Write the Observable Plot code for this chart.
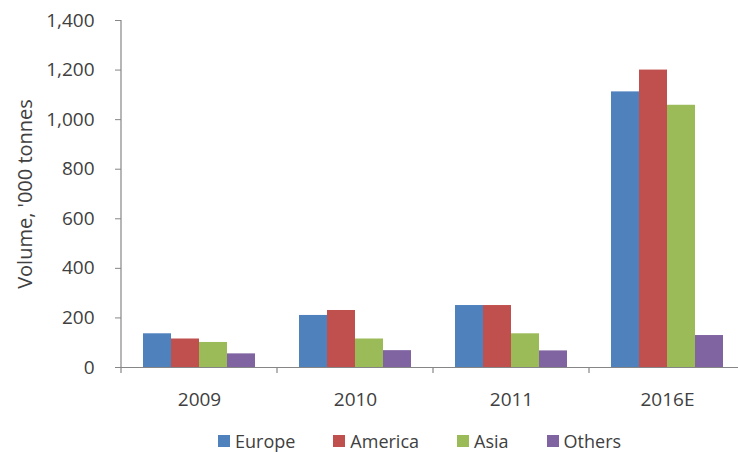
<!DOCTYPE html>
<html>
<head>
<meta charset="utf-8">
<script src="https://cdn.jsdelivr.net/npm/d3@7"></script>
<script src="https://cdn.jsdelivr.net/npm/@observablehq/plot@0.6"></script>
<style>
  body { margin: 0; background: #fff; }
  #wrap { position: relative; width: 738px; height: 452px; overflow: hidden; background: #fff; }
  #legend { position: absolute; top: 433px; left: 218px; display: flex; align-items: center; gap: 38px;
            font-family: "Open Sans", sans-serif; font-size: 18px; line-height: 16px; color: #404040; }
  #legend .item { display: flex; align-items: center; gap: 5px; white-space: nowrap; }
  #legend .sw { width: 12px; height: 12px; display: inline-block; }
</style>
</head>
<body>
<div id="wrap"></div>
<script>
const years = ["2009", "2010", "2011", "2016E"];
const series = ["Europe", "America", "Asia", "Others"];
const europe = [136, 210, 250, 1112];
const america = [115, 230, 250, 1200];
const asia = [101, 115, 136, 1058];
const others = [55, 68, 67, 129];
const colors = ["#4F81BD", "#C0504D", "#9BBB59", "#8064A2"];
const yTicks = [0, 200, 400, 600, 800, 1000, 1200, 1400];
const yLabel = "Volume, '000 tonnes";

const valuesBySeries = [europe, america, asia, others];
const data = years.flatMap((yr, i) => series.map((s, j) => ({year: yr, series: s, value: valuesBySeries[j][i]})));

const chart = Plot.plot({
  width: 738,
  height: 425,
  marginLeft: 120,
  marginRight: 0,
  marginTop: 20,
  marginBottom: 58,
  style: {fontFamily: "'Open Sans', sans-serif", fontSize: "19px", color: "#404040", background: "white", overflow: "hidden"},
  fx: {domain: years, range: [120, 746.4], padding: 0, label: null},
  x: {domain: series, paddingInner: 0, paddingOuter: 0.724, axis: null},
  y: {domain: [0, 1400], label: null},
  color: {domain: series, range: colors},
  marks: [
    Plot.barY(data, {fx: "year", x: "series", y: "value", fill: "series"}),
    Plot.ruleY([0], {stroke: "#868686", strokeWidth: 1.2}),
    Plot.axisY({ticks: yTicks, tickFormat: d3.format(","), tickSize: 6, tickPadding: 21, stroke: "#868686", fill: "#404040",
                label: yLabel, labelArrow: "none", labelAnchor: "center", labelOffset: 104}),
    Plot.axisFx({anchor: "bottom", tickSize: 0, tickPadding: 25, label: null, fill: "#404040"})
  ]
});

const fxs = chart.scale("fx");
const ys = chart.scale("y");
const y0 = ys.apply(0);
const yTop = ys.apply(1400);
const g = d3.select(chart).append("g").attr("stroke", "#868686").attr("stroke-width", 1.2);
// y axis line
g.append("line").attr("x1", fxs.apply(years[0])).attr("x2", fxs.apply(years[0])).attr("y1", yTop).attr("y2", y0);
// boundary ticks between categories along the x axis
years.forEach(yr => {
  const x = fxs.apply(yr);
  g.append("line").attr("x1", x).attr("x2", x).attr("y1", y0).attr("y2", y0 + 6);
});
// enlarge the y-axis title slightly and strip any arrow
d3.select(chart).selectAll('[aria-label="y-axis label"] text').each(function() {
  const t = d3.select(this);
  t.attr("font-size", 20);
  t.text(yLabel);
});

const wrap = document.getElementById("wrap");
wrap.appendChild(chart);

const legend = document.createElement("div");
legend.id = "legend";
series.forEach((s, i) => {
  const item = document.createElement("div");
  item.className = "item";
  const sw = document.createElement("span");
  sw.className = "sw";
  sw.style.background = colors[i];
  const t = document.createElement("span");
  t.textContent = s;
  item.appendChild(sw);
  item.appendChild(t);
  legend.appendChild(item);
});
wrap.appendChild(legend);
</script>
</body>
</html>
